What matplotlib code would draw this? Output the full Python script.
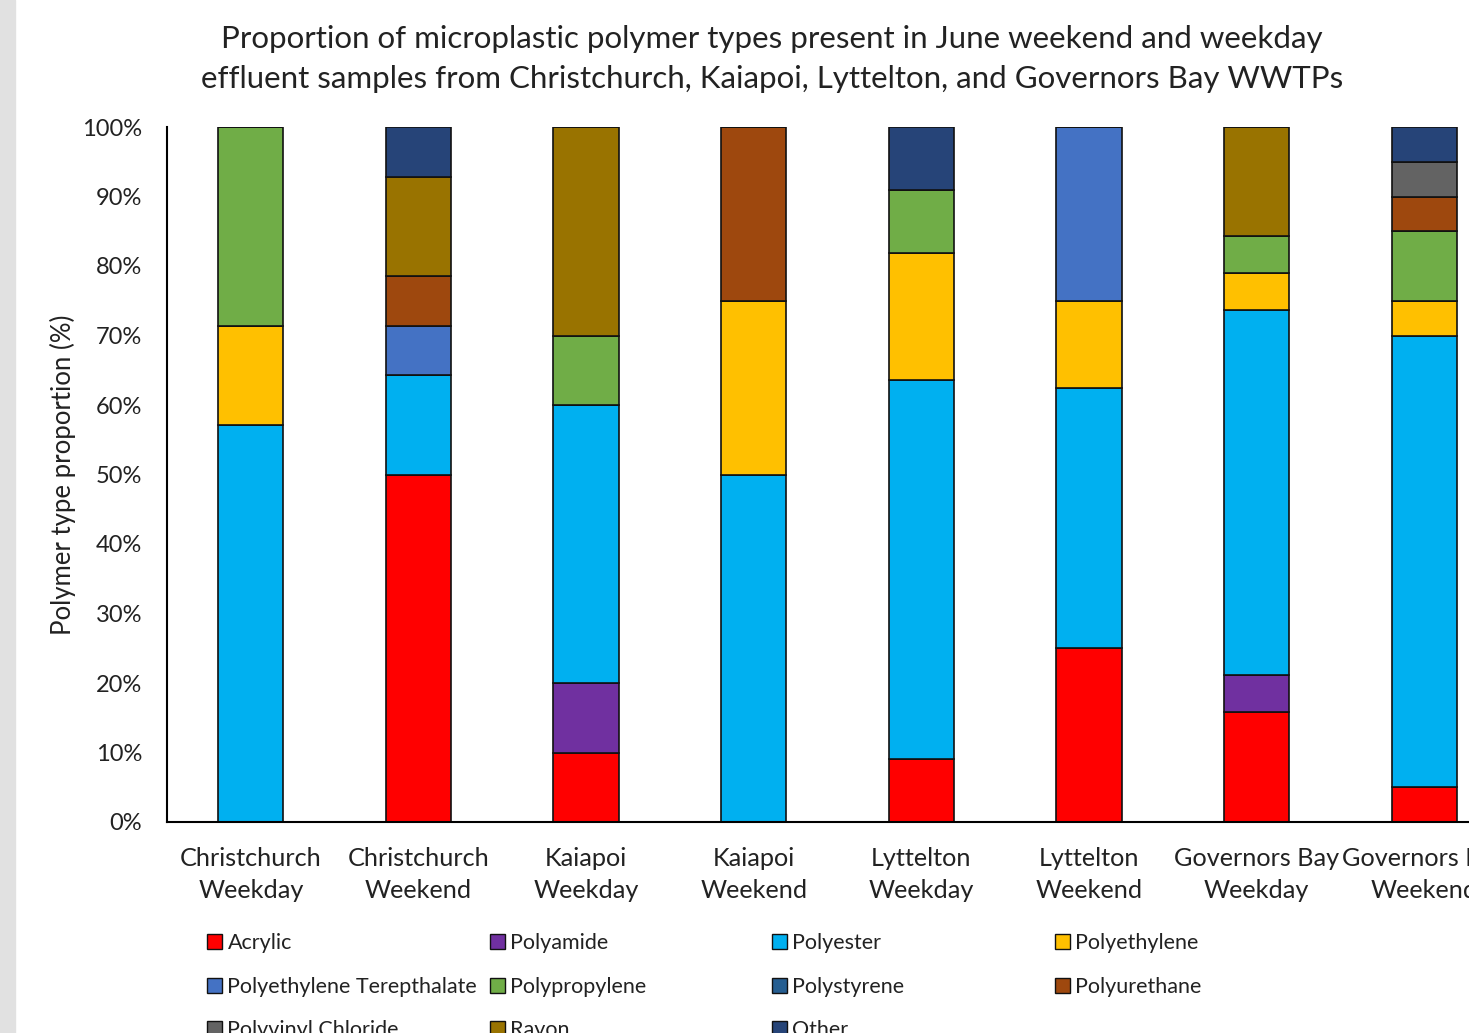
import matplotlib.pyplot as plt
from matplotlib.patches import Rectangle, Patch

plt.rcParams['font.family'] = ['Lato', 'DejaVu Sans']

# sample sites (two-line labels)
samples = ['Christchurch\nWeekday', 'Christchurch\nWeekend', 'Kaiapoi\nWeekday', 'Kaiapoi\nWeekend',
           'Lyttelton\nWeekday', 'Lyttelton\nWeekend', 'Governors Bay\nWeekday', 'Governors Bay\nWeekend']

# proportion (%) of each polymer type per sample
acrylic = [0, 50, 10, 0, 9.1, 25, 15.8, 5]
polyamide = [0, 0, 10, 0, 0, 0, 5.3, 0]
polyester = [57.1, 14.3, 40, 50, 54.5, 37.5, 52.6, 65]
polyethylene = [14.3, 0, 0, 25, 18.2, 12.5, 5.3, 5]
pet = [0, 7.1, 0, 0, 0, 25, 0, 0]
polypropylene = [28.6, 0, 10, 0, 9.1, 0, 5.3, 10]
polystyrene = [0, 0, 0, 0, 0, 0, 0, 0]
polyurethane = [0, 7.1, 0, 25, 0, 0, 0, 5]
pvc = [0, 0, 0, 0, 0, 0, 0, 5]
rayon = [0, 14.3, 30, 0, 0, 0, 15.7, 0]
other = [0, 7.2, 0, 0, 9.1, 0, 0, 5]

series = [
    ('Acrylic', acrylic, '#FF0000'),
    ('Polyamide', polyamide, '#7030A0'),
    ('Polyester', polyester, '#00B0F0'),
    ('Polyethylene', polyethylene, '#FFC000'),
    ('Polyethylene Terepthalate', pet, '#4472C4'),
    ('Polypropylene', polypropylene, '#70AD47'),
    ('Polystyrene', polystyrene, '#255E91'),
    ('Polyurethane', polyurethane, '#9E480E'),
    ('Polyvinyl Chloride', pvc, '#636363'),
    ('Rayon', rayon, '#997300'),
    ('Other', other, '#264478'),
]

W, H = 1469, 1033
fig = plt.figure(figsize=(W / 100, H / 100), dpi=100)
fig.patches.append(Rectangle((0, 0), 15 / W, 1, transform=fig.transFigure, color='#e1e1e1', zorder=-1))

ax = fig.add_axes([167 / W, 1 - 822 / H, (1508 - 167) / W, (822 - 127) / H])

x = range(len(samples))
bottom = [0] * len(samples)
for name, vals, col in series:
    ax.bar(x, vals, 0.39, bottom=bottom, color=col, edgecolor='#111111', linewidth=1.2, label=name)
    bottom = [b + v for b, v in zip(bottom, vals)]

ax.set_xlim(-0.5, len(samples) - 0.5)
ax.set_ylim(0, 100)
ax.set_yticks(range(0, 101, 10))
ax.set_yticklabels(['%d%%' % t for t in range(0, 101, 10)])
ax.set_xticks(list(x))
ax.set_xticklabels(samples, linespacing=1.45)
ax.tick_params(axis='y', length=0, pad=18, labelsize=17, labelcolor='#222222')
ax.tick_params(axis='x', length=0, pad=18, labelsize=18.2, labelcolor='#222222')
for s in ['top', 'right']:
    ax.spines[s].set_visible(False)
ax.spines['left'].set_linewidth(1.5)
ax.spines['bottom'].set_linewidth(1.5)
ax.set_ylabel('Polymer type proportion (%)', fontsize=18.5, color='#222222', labelpad=4)

fig.text(772 / W, 1 - 59 / H, 'Proportion of microplastic polymer types present in June weekend and weekday\n'
         'effluent samples from Christchurch, Kaiapoi, Lyttelton, and Governors Bay WWTPs',
         ha='center', va='center', fontsize=22.5, color='#222222', linespacing=1.5)

# legend laid out in evenly spaced columns
handles = [Patch(facecolor=c, edgecolor='#111111', linewidth=1.0, label=n) for n, _, c in series]
columns = [[0, 4, 8], [1, 5, 9], [2, 6, 10], [3, 7]]
col_x = [207, 490, 772, 1055]
for cx, idx in zip(col_x, columns):
    leg = fig.legend([handles[i] for i in idx], [series[i][0] for i in idx],
                     loc='upper left', bbox_to_anchor=(cx / W, 1 - 933 / H), frameon=False,
                     fontsize=15.5, handlelength=0.7, handleheight=0.7, handletextpad=0.25,
                     labelspacing=1.1, borderpad=0, borderaxespad=0, labelcolor='#222222')

fig.savefig('out.png', dpi=100)
